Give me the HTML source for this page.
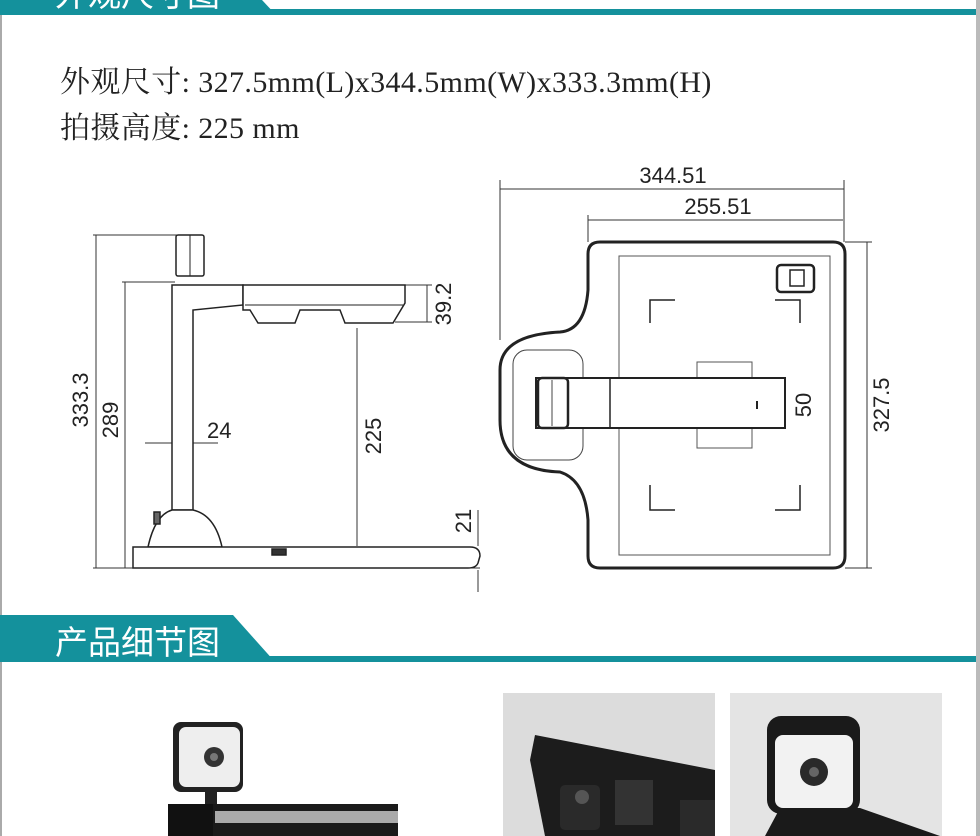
<!DOCTYPE html>
<html><head><meta charset="utf-8"><style>
html,body{margin:0;padding:0;background:#fff;}
body{width:980px;height:836px;position:relative;overflow:hidden;}
.t{position:absolute;font-family:"Liberation Serif","Noto Serif CJK SC",serif;font-size:30px;letter-spacing:0.4px;color:#222;white-space:nowrap;}
</style></head><body>
<svg width="980" height="836" style="position:absolute;left:0;top:0" font-family="Liberation Sans, sans-serif">
<rect x="0" y="0" width="2" height="836" fill="#aaa"/>
<rect x="976" y="0" width="4" height="836" fill="#bbb"/>
<polygon points="0,0 262,0 276,15 0,15" fill="#14919c"/>
<rect x="0" y="9" width="976" height="6" fill="#14919c"/>
<text x="55" y="6" fill="#fff" font-family="Noto Sans CJK SC, sans-serif" font-size="33">外观尺寸图</text>
<polygon points="0,615 233,615 275,662 0,662" fill="#14919c"/>
<rect x="0" y="656" width="976" height="6" fill="#14919c"/>
<text x="55" y="654" fill="#fff" font-family="Noto Sans CJK SC, sans-serif" font-size="33">产品细节图</text>

<g stroke="#333" fill="none" stroke-width="1">
<line x1="93" y1="235" x2="180" y2="235"/><line x1="96" y1="235" x2="96" y2="568"/>
<line x1="122" y1="282" x2="175" y2="282"/><line x1="125" y1="282" x2="125" y2="568"/>
<line x1="93" y1="568" x2="480" y2="568"/>
<line x1="405" y1="285" x2="432" y2="285"/><line x1="395" y1="322" x2="432" y2="322"/><line x1="427" y1="285" x2="427" y2="322"/>
<line x1="357" y1="328" x2="357" y2="546"/>
<line x1="478" y1="510" x2="478" y2="546"/><line x1="478" y1="570" x2="478" y2="592"/>
<line x1="145" y1="443" x2="172" y2="443"/><line x1="193" y1="443" x2="218" y2="443"/>
</g>
<g stroke="#222" fill="#fff" stroke-width="1.5">
<rect x="176" y="235" width="28" height="41" rx="2"/>
<line x1="190" y1="235" x2="190" y2="276" stroke-width="1"/>
<path d="M172,285 L243,285 L243,305 L193,310 L193,510 L172,510 Z"/>
<path d="M243,285 L405,285 L405,303 L393,323 L345,323 L340,310 L300,310 L295,323 L258,323 L250,310 L243,310 Z"/>
<line x1="245" y1="305" x2="403" y2="305" stroke-width="1"/>
<path d="M172,510 L193,510 Q215,515 222,547 L148,547 Q155,515 172,510 Z"/>
<path d="M133,547 L470,547 Q480,547 480,556 L478,563 Q476,568 468,568 L133,568 Z"/>
<rect x="272" y="549" width="14" height="6" fill="#333"/>
<rect x="154" y="512" width="6" height="12" fill="#666"/>
</g>
<g font-size="22" fill="#222">
<text transform="translate(88,400) rotate(-90)" text-anchor="middle">333.3</text>
<text transform="translate(118,420) rotate(-90)" text-anchor="middle">289</text>
<text x="207" y="438">24</text>
<text transform="translate(381,436) rotate(-90)" text-anchor="middle">225</text>
<text transform="translate(451,304) rotate(-90)" text-anchor="middle">39.2</text>
<text transform="translate(471,521) rotate(-90)" text-anchor="middle">21</text>
</g>

<g stroke="#333" fill="none" stroke-width="1">
<line x1="500" y1="180" x2="500" y2="340"/><line x1="844" y1="180" x2="844" y2="242"/>
<line x1="500" y1="189" x2="844" y2="189"/>
<line x1="588" y1="215" x2="588" y2="242"/>
<line x1="588" y1="220" x2="843" y2="220"/>
<line x1="845" y1="242" x2="872" y2="242"/><line x1="845" y1="568" x2="872" y2="568"/>
<line x1="867" y1="242" x2="867" y2="568"/>
<line x1="785" y1="383" x2="790" y2="383"/><line x1="785" y1="427" x2="790" y2="427"/><line x1="790" y1="383" x2="790" y2="427"/>
</g>
<path d="M600,242 L833,242 Q845,242 845,254 L845,556 Q845,568 833,568 L600,568 Q588,568 588,556 L588,520 Q585,480 560,472 Q500,470 500,420 L500,370 Q500,335 560,332 Q585,330 588,290 L588,254 Q588,242 600,242 Z" fill="#fff" stroke="#222" stroke-width="3"/>
<rect x="619" y="256" width="211" height="299" fill="none" stroke="#555" stroke-width="1"/>
<rect x="513" y="350" width="70" height="110" rx="14" fill="none" stroke="#444" stroke-width="1"/>
<rect x="697" y="362" width="55" height="86" fill="none" stroke="#555" stroke-width="1"/>
<rect x="777" y="265" width="37" height="27" rx="4" fill="none" stroke="#222" stroke-width="2.5"/>
<rect x="790" y="270" width="14" height="16" fill="none" stroke="#222" stroke-width="1.5"/>
<g stroke="#222" stroke-width="1.5" fill="none">
<path d="M650,323 L650,300 L675,300"/><path d="M775,300 L800,300 L800,323"/>
<path d="M650,485 L650,510 L675,510"/><path d="M775,510 L800,510 L800,485"/>
</g>
<rect x="536" y="378" width="249" height="50" fill="#fff" stroke="#222" stroke-width="2"/>
<line x1="610" y1="378" x2="610" y2="428" stroke="#222" stroke-width="1.5"/>
<rect x="538" y="378" width="30" height="50" rx="4" fill="none" stroke="#222" stroke-width="2.5"/>
<line x1="552" y1="380" x2="552" y2="426" stroke="#444"/>
<line x1="757" y1="401" x2="757" y2="409" stroke="#222" stroke-width="2"/>
<g font-size="22" fill="#222">
<text x="673" y="183" text-anchor="middle">344.51</text>
<text x="718" y="214" text-anchor="middle">255.51</text>
<text transform="translate(889,405) rotate(-90)" text-anchor="middle">327.5</text>
<text transform="translate(811,405) rotate(-90)" text-anchor="middle">50</text>
</g>

<rect x="173" y="722" width="70" height="70" rx="8" fill="#222"/>
<rect x="179" y="727" width="61" height="60" rx="7" fill="#eee"/>
<circle cx="214" cy="757" r="10" fill="#333"/><circle cx="214" cy="757" r="4" fill="#777"/>
<rect x="205" y="790" width="12" height="15" fill="#222"/>
<rect x="168" y="804" width="230" height="32" fill="#1a1a1a"/>
<rect x="215" y="811" width="183" height="12" fill="#aaa"/>
<rect x="168" y="804" width="45" height="32" fill="#111"/>
<rect x="503" y="693" width="212" height="143" fill="#dcdcdc"/>
<polygon points="535,735 715,770 715,836 545,836 530,760" fill="#1c1c1c"/>
<rect x="560" y="785" width="40" height="45" rx="5" fill="#2a2a2a"/>
<circle cx="582" cy="797" r="7" fill="#555"/>
<rect x="615" y="780" width="38" height="45" fill="#333"/>
<rect x="680" y="800" width="35" height="36" fill="#2a2a2a"/>
<rect x="730" y="693" width="212" height="143" fill="#e4e4e4"/>
<rect x="767" y="716" width="93" height="98" rx="14" fill="#1a1a1a"/>
<rect x="775" y="735" width="78" height="73" rx="8" fill="#f2f2f2"/>
<circle cx="814" cy="772" r="14" fill="#2a2a2a"/><circle cx="814" cy="772" r="5" fill="#666"/>
<polygon points="765,836 780,808 860,808 940,836" fill="#1a1a1a"/>
</svg>
<div class="t" style="left:60px;top:57px;">外观尺寸: 327.5mm(L)x344.5mm(W)x333.3mm(H)</div>
<div class="t" style="left:60px;top:103px;">拍摄高度: 225 mm</div>
</body></html>
